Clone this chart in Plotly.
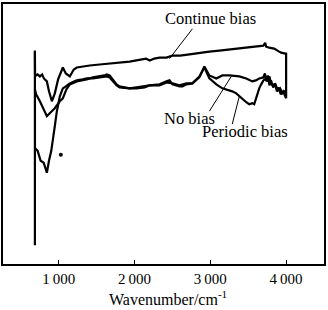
import plotly.graph_objects as go

# Wavenumber (cm^-1) and transmittance (arbitrary units)
cont_x = [684, 686, 700, 720, 750, 780, 803, 842, 870, 908, 947, 990, 1053, 1092, 1145, 1197, 1237,
          1316, 1408, 1539, 1671, 1803, 1934, 2080, 2150, 2200, 2260, 2329, 2420, 2500, 2600, 2700,
          2855, 2987, 3118, 3250, 3382, 3513, 3650, 3700, 3724, 3737, 3776, 3842, 3908, 3934, 3990,
          4000, 4000]
cont_y = [215, 192, 190, 191, 189, 191, 187, 184, 174, 164, 172, 186, 198, 192, 189, 196, 198,
          199, 200, 201, 202, 203, 204, 206, 207, 205, 207, 208, 208, 210, 210, 211,
          213, 214, 215, 216, 217, 218, 219, 220, 223, 219, 218, 217, 214, 213, 212,
          212, 167]

nob_x = [684, 700, 750, 800, 842, 880, 947, 1013, 1053, 1100, 1145, 1237, 1316, 1368, 1450, 1539,
         1600, 1632, 1671, 1711, 1763, 1800, 1895, 1934, 2026, 2132, 2197, 2329, 2421, 2461, 2500,
         2592, 2632, 2684, 2763, 2855, 2921, 2987, 3079, 3158, 3250, 3382, 3474, 3553, 3600, 3645,
         3700, 3720, 3740, 3760, 3780, 3800, 3830, 3850, 3880, 3900, 3930, 3960, 4000]
nob_y = [176, 171, 164, 156, 149, 152, 157, 164, 167, 176, 181, 184, 185, 186, 188, 189,
         190, 191, 190, 186, 181, 179, 178, 177, 177, 178, 180, 181, 184, 185, 181,
         179, 179, 181, 182, 188, 199, 190, 187, 190, 190, 189, 187, 184, 185, 187,
         188, 192, 184, 190, 180, 185, 178, 182, 174, 178, 171, 174, 167]

per_x = [684, 684, 685, 720, 760, 800, 842, 870, 900, 947, 974, 1013, 1053, 1092, 1145, 1200, 1237,
         1316, 1368, 1450, 1539, 1580, 1632, 1671, 1711, 1763, 1803, 1895, 1934, 2026, 2132, 2197,
         2329, 2421, 2500, 2592, 2684, 2763, 2855, 2921, 2987, 3026, 3079, 3158, 3211, 3289, 3342,
         3421, 3474, 3513, 3553, 3579, 3618, 3645, 3671, 3700, 3737, 3760, 3780, 3800, 3830, 3860,
         3890, 3920, 3950, 3980, 4000]
per_y = [19, 215, 117, 114, 104, 102, 92, 104, 114, 139, 154, 169, 177, 179, 182, 184, 185,
         186, 187, 187, 188, 189, 189, 188, 184, 180, 178, 177, 177, 178, 179, 180,
         180, 183, 182, 180, 182, 182, 189, 198, 187, 184, 181, 177, 176, 174, 172,
         166, 163, 161, 162, 161, 171, 177, 181, 185, 187, 184, 189, 182, 179, 181,
         175, 177, 172, 174, 169]

dot_x = [1026]
dot_y = [110]

tick_vals = [1000, 2000, 3000, 4000]
tick_text = ["1\u2009000", "2\u2009000", "3\u2009000", "4\u2009000"]

FONT = "Liberation Serif"
INK = "#000000"
line = dict(color=INK, width=2.2)

fig = go.Figure()
fig.add_trace(go.Scatter(x=cont_x, y=cont_y, mode="lines", line=line, name="Continue bias"))
fig.add_trace(go.Scatter(x=nob_x, y=nob_y, mode="lines", line=line, name="No bias"))
fig.add_trace(go.Scatter(x=per_x, y=per_y, mode="lines", line=line, name="Periodic bias"))
fig.add_trace(go.Scatter(x=dot_x, y=dot_y, mode="markers",
                         marker=dict(color=INK, size=4), name="dot"))

labels = [
    ("Continue bias", 3000, 247, 2763, 237, 2461, 207),
    ("No bias", 2724, 147, 2987, 154, 3276, 189),
    ("Periodic bias", 3461, 134, 3289, 141, 3382, 169),
]
for text, tx, ty, x0, y0, x1, y1 in labels:
    fig.add_annotation(x=tx, y=ty, text=text, showarrow=False,
                       font=dict(family=FONT, size=16.5, color=INK))
    fig.add_shape(type="line", x0=x0, y0=y0, x1=x1, y1=y1,
                  line=dict(color=INK, width=1))

# axis title placed below tick labels
fig.add_annotation(x=0.515, y=-0.086, xref="paper", yref="paper",
                   text="Wavenumber/cm<sup>-1</sup>", showarrow=False,
                   xanchor="center", yanchor="top",
                   font=dict(family=FONT, size=16, color=INK))

fig.update_layout(
    width=328, height=310,
    margin=dict(l=3, r=3, t=2, b=46),
    paper_bgcolor="white", plot_bgcolor="white",
    showlegend=False,
    font=dict(family=FONT, size=15, color=INK),
)
fig.update_xaxes(
    range=[263, 4500], tickvals=tick_vals, ticktext=tick_text,
    ticks="inside", ticklen=4, tickcolor=INK, tickwidth=1,
    showline=True, linecolor=INK, linewidth=1.5, mirror=True,
    showgrid=False, zeroline=False,
    tickfont=dict(family=FONT, size=15, color=INK),
)
fig.update_yaxes(
    range=[0, 262], showticklabels=False, ticks="",
    showline=True, linecolor=INK, linewidth=1.5, mirror=True,
    showgrid=False, zeroline=False,
)

fig.write_html("out.html")
